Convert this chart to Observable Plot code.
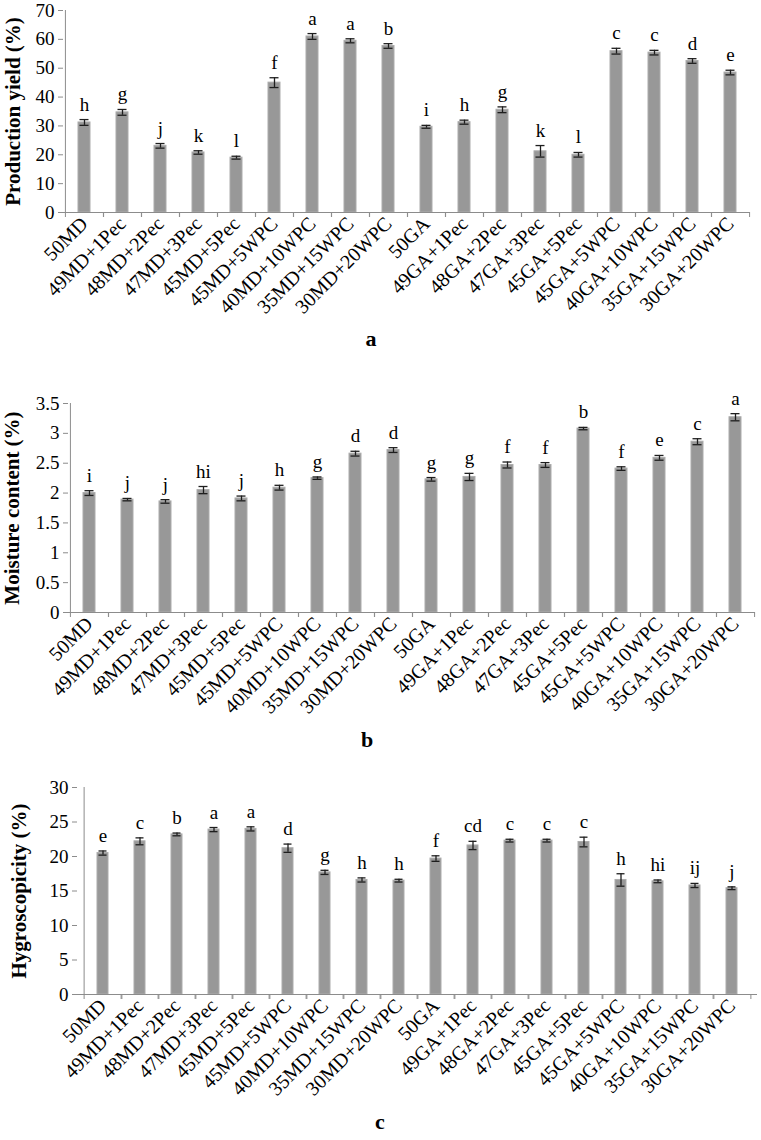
<!DOCTYPE html>
<html><head><meta charset="utf-8">
<script src="https://cdn.jsdelivr.net/npm/d3@7"></script>
<script src="https://cdn.jsdelivr.net/npm/@observablehq/plot@0.6"></script>
<style>
body{margin:0;background:#fff;width:761px;height:1140px;position:relative;overflow:hidden;font-family:"Liberation Serif","Times New Roman",serif;}
.panel{position:absolute;left:0;}
.panel svg, .panel svg text{font-family:"Liberation Serif","Times New Roman",serif !important;}
.cap{position:absolute;font-weight:bold;font-size:22px;transform:translate(-50%,-50%);line-height:1;}
</style></head><body>
<div id="pa" class="panel" style="top:0"></div>
<div class="cap" style="left:371px;top:339px">a</div>
<div id="pb" class="panel" style="top:380px"></div>
<div class="cap" style="left:367px;top:740px">b</div>
<div id="pc" class="panel" style="top:770px"></div>
<div class="cap" style="left:380px;top:1122px">c</div>
<script>
const treatments = ["50MD","49MD+1Pec","48MD+2Pec","47MD+3Pec","45MD+5Pec","45MD+5WPC","40MD+10WPC","35MD+15WPC","30MD+20WPC","50GA","49GA+1Pec","48GA+2Pec","47GA+3Pec","45GA+5Pec","45GA+5WPC","40GA+10WPC","35GA+15WPC","30GA+20WPC"];

const yieldMean = [31.2,34.7,23.1,20.8,19.0,45.0,61.0,59.5,57.7,29.7,31.3,35.6,21.2,20.0,55.9,55.4,52.5,48.5];
const yieldErr  = [1.0,1.0,0.8,0.6,0.5,1.7,1.0,0.7,0.8,0.5,0.7,1.0,2.0,0.8,1.0,0.8,0.8,0.8];
const yieldLetters = ["h","g","j","k","l","f","a","a","b","i","h","g","k","l","c","c","d","e"];
const yieldTicks = [0,10,20,30,40,50,60,70];

const moistMean = [2.00,1.89,1.86,2.05,1.91,2.09,2.25,2.66,2.72,2.23,2.27,2.47,2.47,3.08,2.41,2.59,2.86,3.27];
const moistErr  = [0.04,0.02,0.03,0.06,0.04,0.04,0.02,0.04,0.04,0.03,0.06,0.05,0.04,0.02,0.03,0.04,0.05,0.06];
const moistLetters = ["i","j","j","hi","j","h","g","d","d","g","g","f","f","b","f","e","c","a"];
const moistTicks = [0,0.5,1,1.5,2,2.5,3,3.5];

const hygroMean = [20.5,22.2,23.2,23.9,24.0,21.2,17.7,16.6,16.5,19.7,21.6,22.3,22.3,22.1,16.6,16.4,15.8,15.4];
const hygroErr  = [0.3,0.5,0.2,0.3,0.3,0.6,0.3,0.3,0.2,0.4,0.6,0.2,0.2,0.7,0.9,0.2,0.3,0.2];
const hygroLetters = ["e","c","b","a","a","d","g","h","h","f","cd","c","c","c","h","hi","ij","j"];
const hygroTicks = [0,5,10,15,20,25,30];

const serif = "'Liberation Serif', 'Times New Roman', serif";

function panel({values, errs, letters, yLabel, yMax, yTicks, ml, mr, mt, h, titleDx}) {
  const data = treatments.map((t, i) => ({t, v: values[i], e: errs[i], l: letters[i]}));
  const width = 761;
  const step = (width - ml - mr) / treatments.length;
  const axisGray = "#8c8c8c";
  const errColor = "#1e1e1e";
  return Plot.plot({
    width, height: h,
    marginLeft: ml, marginRight: mr, marginTop: mt, marginBottom: 118,
    style: {fontFamily: serif, fontSize: "19px", color: "#000", background: "transparent", overflow: "visible"},
    x: {domain: treatments, paddingInner: 0.69, paddingOuter: 0.345, label: null},
    y: {domain: [0, yMax], label: null},
    marks: [
      Plot.barY(data, {x: "t", y: "v", fill: "#989898", stroke: "#acacac", strokeWidth: 1}),
      Plot.ruleX(data, {x: "t", y1: d => d.v - d.e, y2: d => d.v + d.e, stroke: errColor, strokeWidth: 1.3}),
      Plot.tickY(data, {x: "t", y: d => d.v + d.e, stroke: errColor, strokeWidth: 1.3, insetLeft: 1.5, insetRight: 1.5}),
      Plot.tickY(data, {x: "t", y: d => d.v - d.e, stroke: errColor, strokeWidth: 1.3, insetLeft: 1.5, insetRight: 1.5}),
      Plot.text(data, {x: "t", y: d => d.v + d.e, text: "l", dy: -9, lineAnchor: "bottom", fontSize: 19, fontFamily: serif}),
      Plot.ruleY([0], {stroke: axisGray, strokeWidth: 1}),
      Plot.ruleX([treatments[0]], {x: d => d, dx: -step / 2, y1: 0, y2: yMax, stroke: axisGray, strokeWidth: 1}),
      Plot.axisY({ticks: yTicks, tickSize: 5, tickPadding: 4, tickFormat: d => String(d), stroke: axisGray, color: "#000", label: null, fontSize: 19, fontFamily: serif}),
      Plot.axisX({tickSize: 5, text: null, dx: -step / 2, stroke: axisGray, label: null}),
      Plot.axisX({tickSize: 5, text: null, dx: step / 2, stroke: axisGray, label: null}),
      Plot.axisX({tickSize: 0, tickRotate: -45, tickPadding: 8, label: null, fontSize: 20, fontFamily: serif}),
      Plot.text([yLabel], {text: d => d, frameAnchor: "left", rotate: -90, dx: titleDx, fontWeight: "bold", fontSize: 21, fontFamily: serif, textAnchor: "middle"})
    ]
  });
}

document.getElementById("pa").append(panel({values: yieldMean, errs: yieldErr, letters: yieldLetters, yLabel: "Production yield (%)", yMax: 70, yTicks: yieldTicks, ml: 63, mr: 11, mt: 10, h: 330, titleDx: -50}));
document.getElementById("pb").append(panel({values: moistMean, errs: moistErr, letters: moistLetters, yLabel: "Moisture content (%)", yMax: 3.5, yTicks: moistTicks, ml: 68, mr: 6, mt: 23, h: 350, titleDx: -56}));
document.getElementById("pc").append(panel({values: hygroMean, errs: hygroErr, letters: hygroLetters, yLabel: "Hygroscopicity (%)", yMax: 30, yTicks: hygroTicks, ml: 77, mr: 4, mt: 17, h: 342, titleDx: -58}));
</script>
</body></html>
